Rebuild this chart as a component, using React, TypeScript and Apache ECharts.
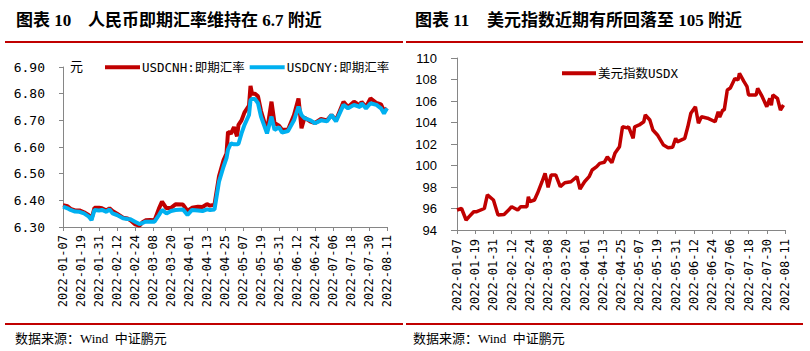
import React, { useEffect, useRef } from "react";
import * as echarts from "echarts";

// ---- categories (every calendar day on the axis) ----
const startDate = "2022-01-07";
const endDate = "2022-08-11";

// ---- Left chart: RMB spot rates ----
const fxDates = [
  "2022-01-07", "2022-01-10", "2022-01-12", "2022-01-15", "2022-01-18", "2022-01-21", "2022-01-24", "2022-01-26",
  "2022-01-28", "2022-01-31", "2022-02-02", "2022-02-05", "2022-02-07", "2022-02-09", "2022-02-12", "2022-02-16",
  "2022-02-19", "2022-02-21", "2022-02-24", "2022-02-27", "2022-03-01", "2022-03-03", "2022-03-06", "2022-03-09",
  "2022-03-12", "2022-03-14", "2022-03-17", "2022-03-20", "2022-03-23", "2022-03-28", "2022-03-31", "2022-04-03",
  "2022-04-07", "2022-04-10", "2022-04-13", "2022-04-15", "2022-04-18", "2022-04-21", "2022-04-24", "2022-04-26",
  "2022-04-27", "2022-04-29", "2022-05-01", "2022-05-03", "2022-05-04", "2022-05-06", "2022-05-08", "2022-05-11",
  "2022-05-12", "2022-05-13", "2022-05-15", "2022-05-17", "2022-05-19", "2022-05-23", "2022-05-26", "2022-05-28",
  "2022-05-31", "2022-06-02", "2022-06-06", "2022-06-10", "2022-06-13", "2022-06-15", "2022-06-17", "2022-06-21",
  "2022-06-24", "2022-06-28", "2022-07-02", "2022-07-05", "2022-07-08", "2022-07-13", "2022-07-16", "2022-07-20",
  "2022-07-24", "2022-07-25", "2022-07-28", "2022-07-31", "2022-08-04", "2022-08-07", "2022-08-09", "2022-08-11",
];
const usdcnh = [
  6.382, 6.378, 6.368, 6.362, 6.362, 6.355, 6.345, 6.33,
  6.372, 6.372, 6.37, 6.362, 6.37, 6.36, 6.35, 6.335,
  6.332, 6.325, 6.31, 6.305, 6.318, 6.325, 6.326, 6.325,
  6.37, 6.395, 6.37, 6.372, 6.385, 6.384, 6.36, 6.372,
  6.376, 6.375, 6.386, 6.38, 6.384, 6.49, 6.55, 6.575,
  6.657, 6.65, 6.675, 6.64, 6.683, 6.7, 6.73, 6.755,
  6.829, 6.8, 6.8, 6.79, 6.735, 6.66, 6.77, 6.69,
  6.68, 6.665, 6.665, 6.72, 6.782, 6.67, 6.71, 6.695,
  6.69, 6.705, 6.7, 6.72, 6.7, 6.77, 6.75, 6.77,
  6.755, 6.77, 6.75, 6.782, 6.765, 6.76, 6.735, 6.745,
];
const usdcny = [
  6.376, 6.37, 6.364, 6.358, 6.357, 6.351, 6.34, 6.326,
  6.364, 6.362, 6.364, 6.357, 6.366, 6.351, 6.345, 6.333,
  6.33, 6.329, 6.32, 6.311, 6.315, 6.32, 6.32, 6.32,
  6.345, 6.364, 6.351, 6.36, 6.364, 6.366, 6.345, 6.364,
  6.362, 6.36, 6.366, 6.364, 6.366, 6.47, 6.526, 6.558,
  6.59, 6.614, 6.61, 6.61, 6.612, 6.651, 6.683, 6.72,
  6.776, 6.78, 6.78, 6.764, 6.714, 6.651, 6.714, 6.664,
  6.674, 6.654, 6.66, 6.7, 6.751, 6.72, 6.708, 6.7,
  6.689, 6.7, 6.696, 6.72, 6.696, 6.758, 6.745, 6.758,
  6.75, 6.764, 6.745, 6.764, 6.758, 6.745, 6.726, 6.745,
];

// ---- Right chart: US dollar index ----
const dxyDates = [
  "2022-01-07", "2022-01-10", "2022-01-13", "2022-01-15", "2022-01-18", "2022-01-20", "2022-01-25", "2022-01-27",
  "2022-01-31", "2022-02-03", "2022-02-07", "2022-02-10", "2022-02-12", "2022-02-16", "2022-02-18", "2022-02-22",
  "2022-02-23", "2022-02-24", "2022-02-27", "2022-03-01", "2022-03-04", "2022-03-06", "2022-03-08", "2022-03-10",
  "2022-03-13", "2022-03-16", "2022-03-19", "2022-03-23", "2022-03-27", "2022-03-29", "2022-04-01", "2022-04-04",
  "2022-04-06", "2022-04-09", "2022-04-11", "2022-04-14", "2022-04-16", "2022-04-19", "2022-04-21", "2022-04-24",
  "2022-04-26", "2022-04-29", "2022-04-30", "2022-05-03", "2022-05-04", "2022-05-07", "2022-05-10", "2022-05-11",
  "2022-05-14", "2022-05-16", "2022-05-19", "2022-05-23", "2022-05-26", "2022-05-29", "2022-05-31", "2022-06-01",
  "2022-06-06", "2022-06-08", "2022-06-10", "2022-06-13", "2022-06-15", "2022-06-17", "2022-06-21", "2022-06-26",
  "2022-06-28", "2022-06-29", "2022-07-01", "2022-07-02", "2022-07-04", "2022-07-06", "2022-07-09", "2022-07-11",
  "2022-07-12", "2022-07-15", "2022-07-17", "2022-07-18", "2022-07-21", "2022-07-23", "2022-07-24", "2022-07-27",
  "2022-07-30", "2022-08-01", "2022-08-02", "2022-08-03", "2022-08-06", "2022-08-08", "2022-08-10",
];
const usdx = [
  95.86, 96.0, 94.93, 95.24, 95.7, 95.7, 96.0, 97.26,
  96.79, 95.4, 95.45, 95.86, 96.17, 95.86, 96.17, 96.17,
  97.1, 96.63, 96.79, 97.41, 98.49, 99.27, 97.97, 99.12,
  99.12, 98.03, 98.4, 98.49, 98.96, 97.81, 98.49, 98.96,
  99.58, 99.89, 100.2, 100.3, 100.8, 100.26, 101.13, 101.75,
  103.6, 103.5, 103.6, 102.53, 103.6, 103.77, 104.07, 104.7,
  104.23, 103.3, 102.84, 101.9, 101.66, 101.7, 102.53, 102.2,
  102.53, 103.6, 104.86, 105.47, 103.93, 104.54, 104.4, 104.07,
  105.0, 104.5, 105.16, 105.16, 107.02, 107.2, 108.1, 107.95,
  108.57, 107.8, 107.33, 106.56, 106.56, 106.56, 107.18, 106.4,
  105.47, 106.25, 105.6, 106.56, 106.25, 105.16, 105.63,
];

const leftTicks = ["6.30", "6.40", "6.50", "6.60", "6.70", "6.80", "6.90"];
const rightTicks = ["94", "96", "98", "100", "102", "104", "106", "108", "110"];

function buildDays(start: string, end: string): string[] {
  const out: string[] = [];
  const s = new Date(start + "T00:00:00Z").getTime();
  const e = new Date(end + "T00:00:00Z").getTime();
  for (let t = s; t <= e; t += 86400000) {
    out.push(new Date(t).toISOString().slice(0, 10));
  }
  return out;
}

const RED = "#c00000";
const BLUE = "#00b0f0";
const AXIS = "#868686";
const MONO = '"DejaVu Sans Mono", "Noto Sans CJK SC", monospace';
const CJK = '"Liberation Serif", "Noto Sans CJK SC", serif';

export default function App() {
  const ref = useRef<HTMLDivElement>(null);
  useEffect(() => {
    if (!ref.current) return;
    const chart = echarts.init(ref.current, undefined, { renderer: "svg" });
    const days = buildDays(startDate, endDate);
    const pairs = (d: string[], v: number[]) => d.map((x, i) => [x, v[i]]);

    const xAxisBase = (gridIndex: number, margin: number) => ({
      type: "category" as const,
      gridIndex,
      data: days,
      boundaryGap: false,
      axisLine: { lineStyle: { color: AXIS, width: 1 } },
      axisTick: { interval: 11, length: 4, lineStyle: { color: AXIS } },
      axisLabel: {
        interval: 11,
        rotate: 90,
        margin,
        color: "#000",
        fontSize: 12,
        fontFamily: MONO,
      },
      splitLine: { show: false },
    });

    chart.setOption({
      animation: false,
      backgroundColor: "#fff",
      grid: [
        { left: 63, right: 423, top: 67, bottom: 124, containLabel: false },
        { left: 457, right: 25, top: 58, bottom: 121, containLabel: false },
      ],
      legend: [
        {
          left: 100,
          top: 56,
          itemWidth: 35,
          itemHeight: 4,
          itemGap: 5,
          icon: "rect",
          data: ["USDCNH:即期汇率", "USDCNY:即期汇率"],
          textStyle: { fontSize: 12.5, fontFamily: MONO, color: "#000", padding: [0, 0, 0, -3] },
        },
        {
          left: 557,
          top: 62,
          itemWidth: 34,
          itemHeight: 4,
          icon: "rect",
          data: ["美元指数USDX"],
          textStyle: { fontSize: 12.5, fontFamily: MONO, color: "#000", padding: [0, 0, 0, -3] },
        },
      ],
      xAxis: [xAxisBase(0, 8), xAxisBase(1, 9)],
      yAxis: [
        {
          type: "value",
          gridIndex: 0,
          min: 6.3,
          max: 6.9,
          interval: 0.1,
          axisLine: { show: true, lineStyle: { color: AXIS } },
          axisTick: { show: true, length: 4, lineStyle: { color: AXIS } },
          axisLabel: {
            margin: 18,
            color: "#000",
            fontSize: 13,
            fontFamily: MONO,
            formatter: (v: number) => leftTicks[Math.round((v - 6.3) * 10)] ?? v.toFixed(2),
          },
          splitLine: { show: false },
        },
        {
          type: "value",
          gridIndex: 1,
          min: 94,
          max: 110,
          interval: 2,
          axisLine: { show: true, lineStyle: { color: AXIS } },
          axisTick: { show: true, length: 6, lineStyle: { color: AXIS } },
          axisLabel: {
            margin: 20,
            color: "#000",
            fontSize: 13,
            fontFamily: '"Liberation Sans", Arial, sans-serif',
            formatter: (v: number) => rightTicks[Math.round((v - 94) / 2)] ?? String(v),
          },
          splitLine: { show: false },
        },
      ],
      series: [
        {
          name: "USDCNH:即期汇率",
          type: "line",
          xAxisIndex: 0,
          yAxisIndex: 0,
          data: pairs(fxDates, usdcnh),
          showSymbol: false,
          lineStyle: { color: RED, width: 4 },
          itemStyle: { color: RED },
        },
        {
          name: "USDCNY:即期汇率",
          type: "line",
          xAxisIndex: 0,
          yAxisIndex: 0,
          data: pairs(fxDates, usdcny),
          showSymbol: false,
          lineStyle: { color: BLUE, width: 4 },
          itemStyle: { color: BLUE },
        },
        {
          name: "美元指数USDX",
          type: "line",
          xAxisIndex: 1,
          yAxisIndex: 1,
          data: pairs(dxyDates, usdx),
          showSymbol: false,
          lineStyle: { color: RED, width: 3.5 },
          itemStyle: { color: RED },
        },
      ],
      graphic: [
        { type: "text", left: 16, top: 12, style: { text: "图表 10", font: `bold 17px ${CJK}`, fill: "#000" } },
        { type: "text", left: 88, top: 12, style: { text: "人民币即期汇率维持在 6.7 附近", font: `bold 17px ${CJK}`, fill: "#000" } },
        { type: "text", left: 415, top: 12, style: { text: "图表 11", font: `bold 17px ${CJK}`, fill: "#000" } },
        { type: "text", left: 487, top: 12, style: { text: "美元指数近期有所回落至 105 附近", font: `bold 17px ${CJK}`, fill: "#000" } },
        { type: "rect", shape: { x: 5, y: 41, width: 398, height: 2 }, style: { fill: RED } },
        { type: "rect", shape: { x: 406, y: 41, width: 397, height: 2 }, style: { fill: RED } },
        { type: "rect", shape: { x: 5, y: 323, width: 398, height: 2 }, style: { fill: RED } },
        { type: "rect", shape: { x: 406, y: 323, width: 397, height: 2 }, style: { fill: RED } },
        { type: "text", left: 70, top: 59, style: { text: "元", font: `13px "Noto Sans CJK SC", sans-serif`, fill: "#000" } },
        { type: "text", left: 15, top: 332, style: { text: "数据来源：Wind  中证鹏元", font: `13px ${CJK}`, fill: "#000" } },
        { type: "text", left: 413, top: 332, style: { text: "数据来源：Wind  中证鹏元", font: `13px ${CJK}`, fill: "#000" } },
      ],
    });
    return () => chart.dispose();
  }, []);

  return (
    <div
      ref={ref}
      style={{ position: "absolute", left: 0, top: 0, width: 810, height: 351, background: "#fff" }}
    />
  );
}
